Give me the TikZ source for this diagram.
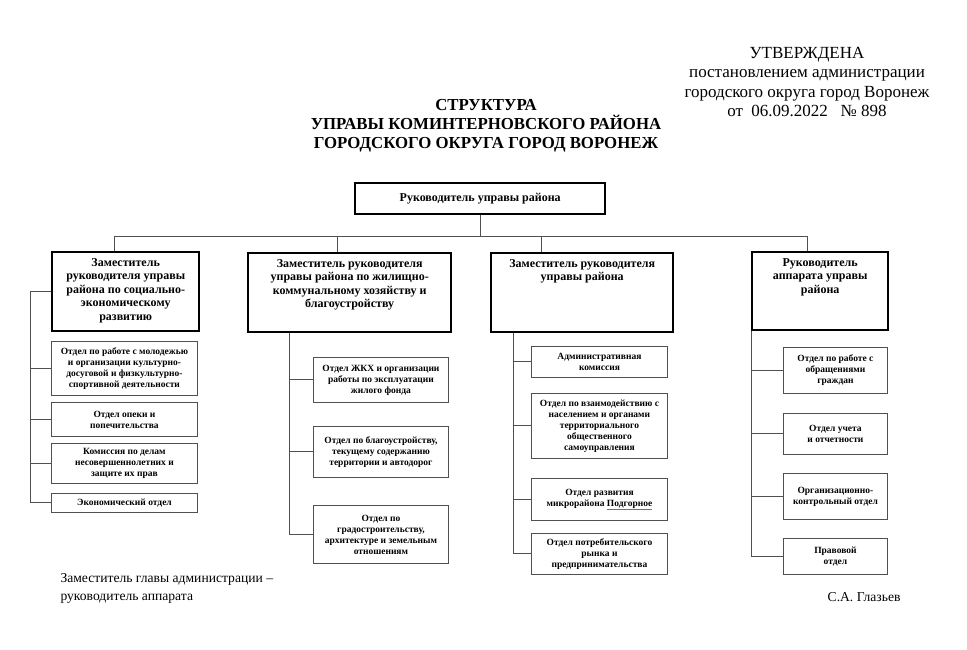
\documentclass[tikz,border=0pt]{standalone}
\usepackage{fontspec}
\setmainfont{Liberation Serif}
\usepackage{xcolor}
\usepackage{tikz}
\usetikzlibrary{positioning}
\definecolor{linegray}{RGB}{80,80,80}
\definecolor{spellgreen}{RGB}{60,150,60}
\def\hdsize{\fontsize{17}{19.4}\selectfont}
\def\ttlsize{\fontsize{16.8}{19}\selectfont\bfseries}
\def\depsize{\fontsize{12}{13.6}\selectfont\bfseries}
\def\deptsize{\fontsize{9.5}{11}\selectfont\bfseries}
\newcommand{\toptext}[3]{\parbox[c][#2][t]{#1}{\centering\vspace{6pt}#3}}
\tikzstyle{chief} = [draw=black, line width=2.4pt, inner sep=0pt, anchor=north west, font=\depsize, align=center]
\tikzstyle{deputy} = [draw=black, line width=2.4pt, inner sep=0pt, anchor=north west, font=\depsize]
\tikzstyle{dept} = [draw=linegray, line width=0.9pt, inner sep=0pt, anchor=north west, font=\deptsize, align=center]
\tikzstyle{link} = [draw=linegray, line width=1pt]

\begin{document}
\begin{tikzpicture}[x=1pt, y=-1pt]
        \useasboundingbox (0,0) rectangle (967,650);
        % heading
        \node[font=\hdsize, align=center] (approved) at (807,82) {УТВЕРЖДЕНА\\постановлением администрации\\городского округа город Воронеж\\от~~06.09.2022~~~№~898};
        \node[font=\ttlsize, align=center] (title) at (486,126) {СТРУКТУРА\\УПРАВЫ КОМИНТЕРНОВСКОГО РАЙОНА\\ГОРОДСКОГО ОКРУГА ГОРОД ВОРОНЕЖ};
        % head of the district
        \node[chief, minimum width=250pt, minimum height=31pt] (boss) at (354,182) {Руководитель управы района};
        % deputies
        \node[deputy] (dep1) at (51,251) {\toptext{147pt}{79pt}{Заместитель\\руководителя управы\\района по социально-\\экономическому\\развитию}};
        \node[deputy] (dep2) at (247,252) {\toptext{203pt}{79pt}{Заместитель руководителя\\управы района по жилищно-\\коммунальному хозяйству и\\благоустройству}};
        \node[deputy] (dep3) at (490,252) {\toptext{182pt}{79pt}{Заместитель руководителя\\управы района}};
        \node[deputy] (dep4) at (751,251) {\toptext{136pt}{78pt}{Руководитель\\аппарата управы\\района}};
        % departments, first column
        \node[dept, minimum width=146pt, minimum height=54pt] (s11) at (51,341) {Отдел по работе с молодежью\\и организации культурно-\\досуговой и физкультурно-\\спортивной деятельности};
        \node[dept, minimum width=146pt, minimum height=34pt] (s12) at (51,402) {Отдел опеки и\\попечительства};
        \node[dept, minimum width=146pt, minimum height=40pt] (s13) at (51,443) {Комиссия по делам\\несовершеннолетних и\\защите их прав};
        \node[dept, minimum width=146pt, minimum height=19pt] (s14) at (51,493) {Экономический отдел};
        % second column
        \node[dept, minimum width=135pt, minimum height=45pt] (s21) at (313,357) {Отдел ЖКХ и организации\\работы по эксплуатации\\жилого фонда};
        \node[dept, minimum width=135pt, minimum height=51pt] (s22) at (313,426) {Отдел по благоустройству,\\текущему содержанию\\территории и автодорог};
        \node[dept, minimum width=135pt, minimum height=58pt] (s23) at (313,505) {Отдел по\\градостроительству,\\архитектуре и земельным\\отношениям};
        % third column
        \node[dept, minimum width=136pt, minimum height=31pt] (s31) at (531,346) {Административная\\комиссия};
        \node[dept, minimum width=136pt, minimum height=65pt] (s32) at (531,393) {Отдел по взаимодействию с\\населением и органами\\территориального\\общественного\\самоуправления};
        \node[dept, minimum width=136pt, minimum height=42pt] (s33) at (531,478) {Отдел развития\\микрорайона {\color{spellgreen}\underline{\color{black}Подгорное}}};
        \node[dept, minimum width=136pt, minimum height=41pt] (s34) at (531,533) {Отдел потребительского\\рынка и\\предпринимательства};
        % fourth column
        \node[dept, minimum width=104pt, minimum height=46pt] (s41) at (783,347) {Отдел по работе с\\обращениями\\граждан};
        \node[dept, minimum width=104pt, minimum height=41pt] (s42) at (783,413) {Отдел учета\\и отчетности};
        \node[dept, minimum width=104pt, minimum height=46pt] (s43) at (783,473) {Организационно-\\контрольный отдел};
        \node[dept, minimum width=104pt, minimum height=36pt] (s44) at (783,538) {Правовой\\отдел};
        % signature
        \node[font=\fontsize{13.6}{18}\selectfont, align=left, anchor=west] (signl) at (57,588) {Заместитель главы администрации –\\руководитель аппарата};
        \node[font=\fontsize{13.6}{18}\selectfont, anchor=east] (signr) at (904,597) {С.А. Глазьев};
        % links from the head
        \draw[link] (boss.south) -- ++(0,21) coordinate (bar);
        \draw[link] ([xshift=-11.5pt]dep1.north) |- ([xshift=-13pt]dep4.north |- bar) -- ([xshift=-13pt]dep4.north);
        \draw[link] ([xshift=-12.5pt]dep2.north) -- ([xshift=-12.5pt]dep2.north |- bar);
        \draw[link] ([xshift=-41pt]dep3.north) -- ([xshift=-41pt]dep3.north |- bar);
        % links inside the columns
        \draw[link] (dep1.west) -- ++(-21,0) |- (s14.west);
        \draw[link] (s11.west) -- ++(-21,0);
        \draw[link] (s12.west) -- ++(-21,0);
        \draw[link] (s13.west) -- ++(-21,0);
        \draw[link] ([xshift=42pt]dep2.south west) |- (s23.west);
        \draw[link] (s21.west) -- ++(-24,0);
        \draw[link] (s22.west) -- ++(-24,0);
        \draw[link] ([xshift=23pt]dep3.south west) |- (s34.west);
        \draw[link] (s31.west) -- ++(-18,0);
        \draw[link] (s32.west) -- ++(-18,0);
        \draw[link] (s33.west) -- ++(-18,0);
        \draw[link] (dep4.south west) |- (s44.west);
        \draw[link] (s41.west) -- ++(-32,0);
        \draw[link] (s42.west) -- ++(-32,0);
        \draw[link] (s43.west) -- ++(-32,0);
\end{tikzpicture}
\end{document}
